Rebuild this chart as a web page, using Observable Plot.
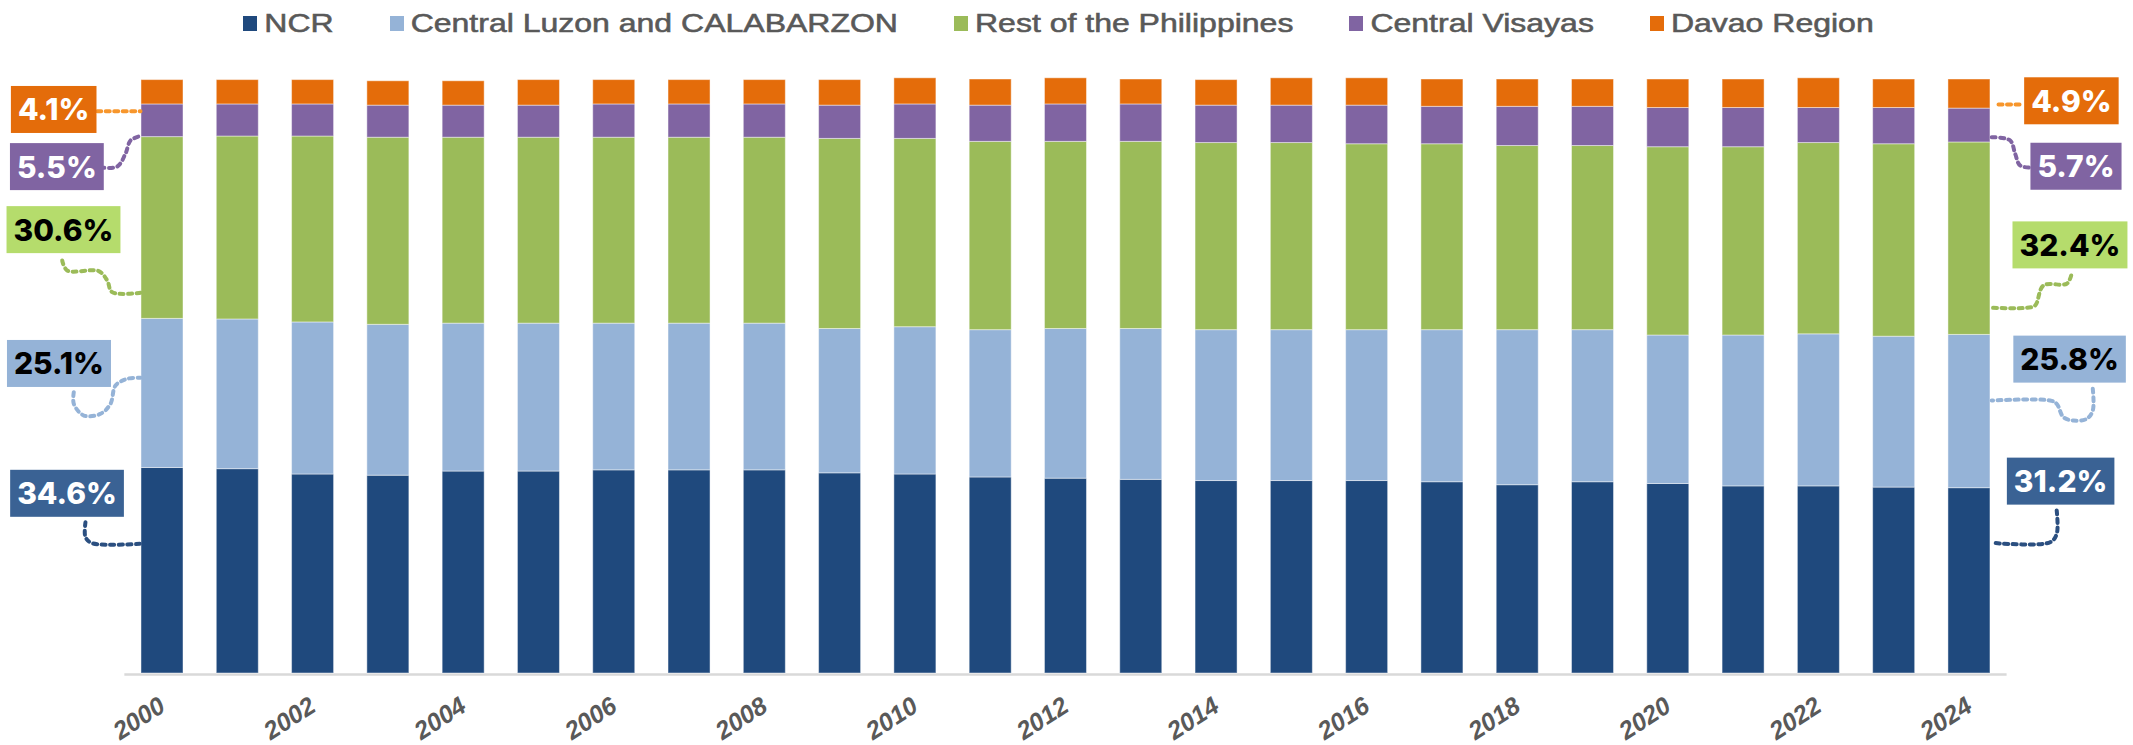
<!DOCTYPE html>
<html><head><meta charset="utf-8">
<script src="https://cdn.jsdelivr.net/npm/d3@7"></script>
<script src="https://cdn.jsdelivr.net/npm/@observablehq/plot@0.6"></script>
<style>
body{margin:0;background:#fff;width:2133px;height:745px;overflow:hidden;font-family:"Liberation Sans",Arial,sans-serif}
#legend{height:44px;display:flex;justify-content:center;align-items:center;gap:56px;padding-right:16px;box-sizing:border-box;padding-top:2px}
.item{display:flex;align-items:center}
.sw{width:14px;height:15px;margin-right:7px;display:inline-block}
.lt{font-size:32px;transform:scaleY(0.78);color:#595959;line-height:1;white-space:nowrap;-webkit-text-stroke:0.7px #595959}
</style></head><body>
<div id="legend"></div><div id="chart"></div>
<script>
// ---- data ----
const years = [2000,2001,2002,2003,2004,2005,2006,2007,2008,2009,2010,2011,2012,2013,2014,2015,2016,2017,2018,2019,2020,2021,2022,2023,2024];
const seriesNames = ["NCR","Central Luzon and CALABARZON","Rest of the Philippines","Central Visayas","Davao Region"];
const ncr   = [34.6,34.4,33.5,33.3,34.0,34.0,34.2,34.2,34.2,33.7,33.5,33.0,32.8,32.6,32.4,32.4,32.4,32.2,31.7,32.2,31.9,31.5,31.5,31.3,31.2];
const clc   = [25.1,25.2,25.6,25.4,24.9,24.9,24.7,24.7,24.7,24.3,24.8,24.8,25.2,25.4,25.4,25.4,25.4,25.6,26.1,25.6,25.0,25.4,25.6,25.4,25.8];
const rest  = [30.6,30.8,31.3,31.5,31.3,31.3,31.3,31.3,31.3,32.0,31.7,31.7,31.5,31.5,31.5,31.5,31.3,31.3,31.0,31.0,31.7,31.7,32.2,32.4,32.4];
const cv    = [5.5,5.4,5.4,5.4,5.4,5.4,5.6,5.6,5.6,5.6,5.8,6.1,6.3,6.3,6.3,6.3,6.5,6.3,6.6,6.6,6.6,6.6,5.9,6.1,5.7];
const davao = [4.1,4.1,4.1,4.1,4.1,4.3,4.1,4.1,4.1,4.3,4.4,4.4,4.4,4.2,4.3,4.6,4.6,4.6,4.6,4.6,4.8,4.8,5.0,4.8,4.9];
const tickYears = [2000,2002,2004,2006,2008,2010,2012,2014,2016,2018,2020,2022,2024];

// ---- styles ----
const seriesColors = ["#1f497d","#95b3d7","#9bbb59","#8064a2","#e46c0a"];
const boxFills     = ["#3a6294","#95b3d7","#b5dc6c","#8064a2","#e46c0a"];
const boxText      = ["#ffffff","#000000","#000000","#ffffff","#ffffff"];
const connColors   = ["#2b4f80","#95b3d7","#9bbb59","#8064a2","#f7962c"];
const halfBar = 0.279;

// ---- annotation layout (data units: year, percent) ----
const leftLabelPos  = [[1998.732,30.10],[1998.625,51.96],[1998.685,74.49],[1998.597,85.10],[1998.555,94.72]];
const rightLabelPos = [[2025.211,32.15],[2025.330,52.69],[2025.335,71.92],[2025.415,85.16],[2025.354,96.18]];
const leftConn = [
  [[1998.977,25.47],[1998.977,22.95],[1999.066,21.94],[1999.708,21.84]],
  [[1998.822,47.36],[1998.822,45.40],[1998.955,43.43],[1999.177,43.72],[1999.309,45.40],[1999.376,48.48],[1999.531,49.61],[1999.708,49.78]],
  [[1998.668,69.53],[1998.734,67.85],[1999.154,67.73],[1999.266,66.16],[1999.332,64.19],[1999.708,64.09]],
  [[1999.177,85.19],[1999.398,85.35],[1999.509,87.54],[1999.575,89.73],[1999.681,90.40]],
  [[1999.133,94.66],[1999.708,94.66]]
];
const rightConn = [
  [[2025.159,27.44],[2025.159,23.52],[2025.071,22.10],[2024.296,22.00]],
  [[2025.638,47.93],[2025.638,44.28],[2025.558,42.88],[2025.381,42.59],[2025.248,43.15],[2025.159,45.40],[2025.071,45.96],[2024.296,45.96]],
  [[2025.351,67.00],[2025.292,65.61],[2024.983,65.32],[2024.872,61.95],[2024.761,61.57],[2024.296,61.57]],
  [[2024.296,90.29],[2024.541,89.73],[2024.607,87.49],[2024.674,85.52],[2024.850,85.14]],
  [[2024.386,95.79],[2024.718,95.79]]
];

// ---- legend ----
const legend = d3.select("#legend");
seriesNames.forEach((n,i)=>{
  const it = legend.append("div").attr("class","item");
  it.append("span").attr("class","sw").style("background",seriesColors[i]);
  it.append("span").attr("class","lt").text(n);
});

// ---- stacked data ----
const values = [ncr, clc, rest, cv, davao];
const stacked = years.flatMap((yr,i)=>{
  let c = 0;
  return values.map((arr,s)=>{ const y1 = c; c += arr[i]; return {year:yr, series:seriesNames[s], y1, y2:c}; });
});
const labels = [];
values.forEach((arr,s)=>{
  labels.push({x:leftLabelPos[s][0], y:leftLabelPos[s][1], text:arr[0].toFixed(1)+"%", s});
  labels.push({x:rightLabelPos[s][0], y:rightLabelPos[s][1], text:arr[arr.length-1].toFixed(1)+"%", s});
});
const connMarks = [];
values.forEach((arr,s)=>{
  [leftConn[s], rightConn[s]].forEach(path=>{
    connMarks.push(Plot.line(path.map(p=>({x:p[0], y:p[1]})), {x:"x", y:"y", stroke:connColors[s], strokeWidth:4, strokeDasharray:"4 4.5", curve:"catmull-rom"}));
  });
});

const svg = Plot.plot({
  width:2133, height:701,
  marginTop:35, marginBottom:72, marginLeft:124.35, marginRight:126.4,
  style:{fontFamily:"Liberation Sans, Arial, sans-serif", fontSize:"22px", fontWeight:"bold", color:"#595959", background:"#fff", overflow:"visible"},
  x:{domain:[1999.5,2024.5], axis:null},
  y:{domain:[0,100], axis:null},
  color:{domain:seriesNames, range:seriesColors},
  marks:[
    Plot.ruleY([0], {stroke:"#d9d9d9", strokeWidth:2.5, dy:1}),
    Plot.rect(stacked, {x1:d=>d.year-halfBar, x2:d=>d.year+halfBar, y1:"y1", y2:"y2", fill:"series", stroke:"#ffffff", strokeOpacity:0.45, strokeWidth:1}),
    Plot.axisX({ticks:tickYears, tickFormat:d=>String(d), tickSize:0, tickPadding:30, tickRotate:-33, fontSize:25, fontWeight:"bold", fontStyle:"italic", fill:"#595959", dx:0, label:null}),
    ...connMarks,
    Plot.text(labels, {x:"x", y:"y", text:"text", fill:d=>boxText[d.s], fontFamily:"Inter", fontSize:30, fontWeight:800})
  ]
});
document.getElementById("chart").appendChild(svg);

// label boxes behind the label texts
const ns = "http://www.w3.org/2000/svg";
const groups = svg.querySelectorAll('g[aria-label="text"]');
const g = groups[groups.length-1];
g.querySelectorAll("text").forEach((t,i)=>{
  const b = t.getBBox();
  const r = document.createElementNS(ns,"rect");
  r.setAttribute("x", b.x-7); r.setAttribute("width", b.width+14);
  r.setAttribute("y", b.y + b.height/2 - 23.5); r.setAttribute("height", 47);
  r.setAttribute("fill", boxFills[labels[i].s]);
  if (t.getAttribute("transform")) r.setAttribute("transform", t.getAttribute("transform"));
  t.parentNode.insertBefore(r, t);
});
</script>
</body></html>
